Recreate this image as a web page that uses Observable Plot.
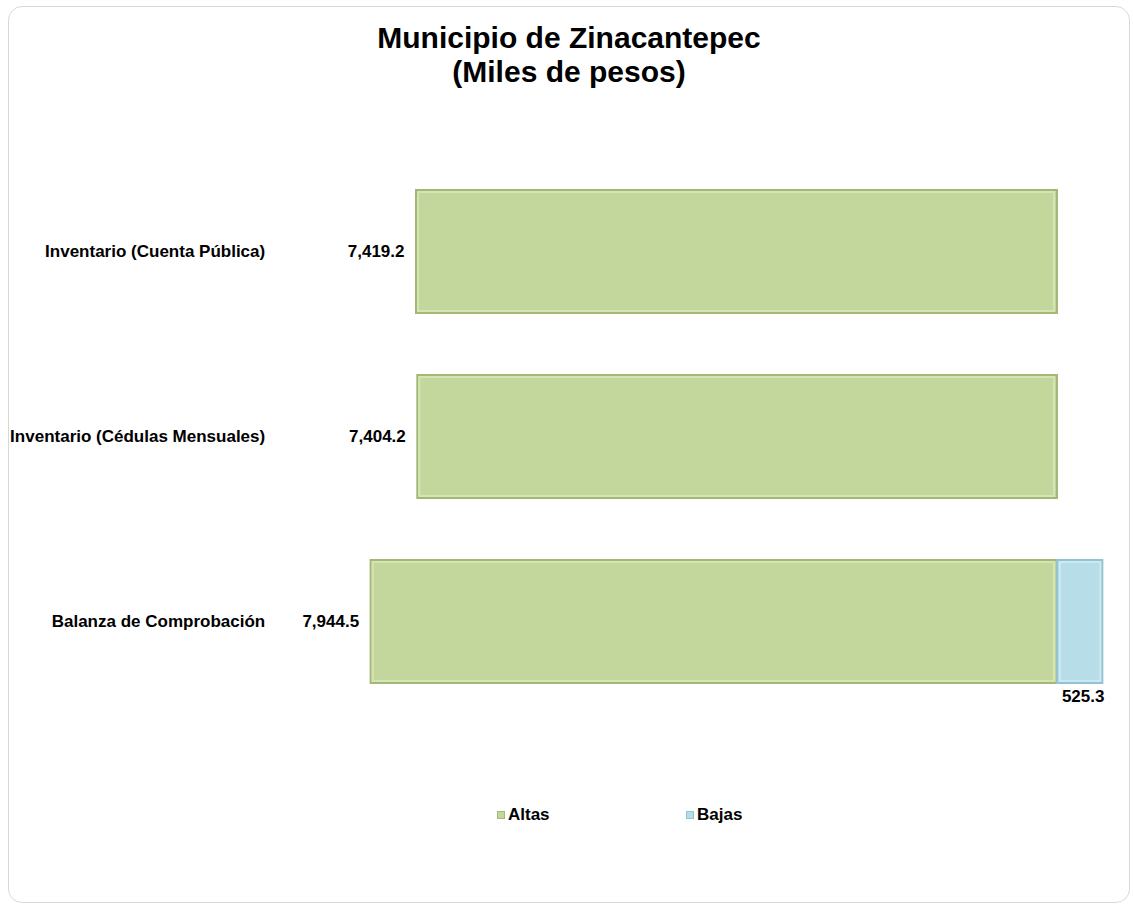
<!DOCTYPE html>
<html>
<head>
<meta charset="utf-8">
<script src="https://cdn.jsdelivr.net/npm/d3@7"></script>
<script src="https://cdn.jsdelivr.net/npm/@observablehq/plot@0.6"></script>
<style>
  html, body { margin: 0; padding: 0; background: #fff; }
  body { width: 1133px; height: 907px; position: relative; overflow: hidden; font-family: "Liberation Sans", Arial, sans-serif; }
  #frame { position: absolute; left: 8px; top: 6px; width: 1122px; height: 897px; border: 1px solid #d9d9d4; border-radius: 14px; box-sizing: border-box; }
  #title { position: absolute; left: 8px; width: 1122px; top: 21px; text-align: center; font-weight: bold; font-size: 30px; line-height: 34px; color: #000; }
  #chart { position: absolute; left: 0; top: 140px; }
  #legend { position: absolute; top: 805px; left: 0; width: 1133px; height: 22px; font-weight: bold; font-size: 17px; color: #000; }
  .item { position: absolute; top: 0; display: flex; align-items: center; gap: 3px; }
  .sw { width: 6px; height: 6px; display: inline-block; }
</style>
</head>
<body>
<div id="frame"></div>
<div id="title">Municipio de Zinacantepec<br>(Miles de pesos)</div>
<div id="chart"></div>
<div id="legend"></div>
<script>
const categories = ["Inventario (Cuenta Pública)", "Inventario (Cédulas Mensuales)", "Balanza de Comprobación"];
const altas = [7419.2, 7404.2, 7944.5];
const bajas = [null, null, 525.3];
const seriesNames = ["Altas", "Bajas"];
const seriesColors = ["#c3d69b", "#b7dde8"];
const seriesStroke = ["#a3b878", "#93c3d0"];

const altasData = categories.map((c, i) => ({cat: c, value: altas[i]}));
const bajasData = categories.map((c, i) => ({cat: c, value: bajas[i]})).filter(d => d.value != null);
const fmt = d3.format(",.1f");

const plot = Plot.plot({
  width: 1133,
  height: 600,
  marginTop: 18,
  marginBottom: 25,
  marginLeft: 296.7,
  marginRight: 24.2,
  style: {fontFamily: "Liberation Sans, Arial, sans-serif", background: "transparent"},
  x: {domain: [8800, -600], axis: null},
  y: {domain: categories, paddingInner: 0.337, paddingOuter: 0.17, label: null},
  marks: [
    Plot.axisY({tickSize: 0, tickPadding: 32, fontSize: 17, fontWeight: "bold", fill: "#000", label: null}),
    Plot.barX(altasData, {y: "cat", x1: 0, x2: "value", fill: seriesColors[0], stroke: seriesStroke[0], strokeWidth: 2}),
    Plot.barX(altasData, {y: "cat", x1: 0, x2: "value", fill: "none", stroke: "#d6e4b4", strokeWidth: 2, insetTop: 2, insetBottom: 2, insetLeft: 2, insetRight: 3}),
    Plot.barX(bajasData, {y: "cat", x1: 0, x2: d => -d.value, fill: seriesColors[1], stroke: seriesStroke[1], strokeWidth: 2}),
    Plot.barX(bajasData, {y: "cat", x1: 0, x2: d => -d.value, fill: "none", stroke: "#cde9f0", strokeWidth: 2, insetTop: 2, insetBottom: 2, insetLeft: 3, insetRight: 2}),
    Plot.text(altasData, {y: "cat", x: "value", text: d => fmt(d.value), textAnchor: "end", dx: -12, fontSize: 17, fontWeight: "bold", fill: "#000"}),
    Plot.text(bajasData, {y: "cat", x: d => -d.value / 2, text: d => fmt(d.value), dy: 75, dx: 3, fontSize: 17, fontWeight: "bold", fill: "#000"})
  ]
});
document.getElementById("chart").appendChild(plot);

const legend = document.getElementById("legend");
const legendLeft = [497, 686];
seriesNames.forEach((name, i) => {
  const it = document.createElement("div");
  it.className = "item";
  it.style.left = legendLeft[i] + "px";
  it.innerHTML = `<span class="sw" style="background:${seriesColors[i]};border:1px solid ${seriesStroke[i]}"></span><span>${name}</span>`;
  legend.appendChild(it);
});
</script>
</body>
</html>
